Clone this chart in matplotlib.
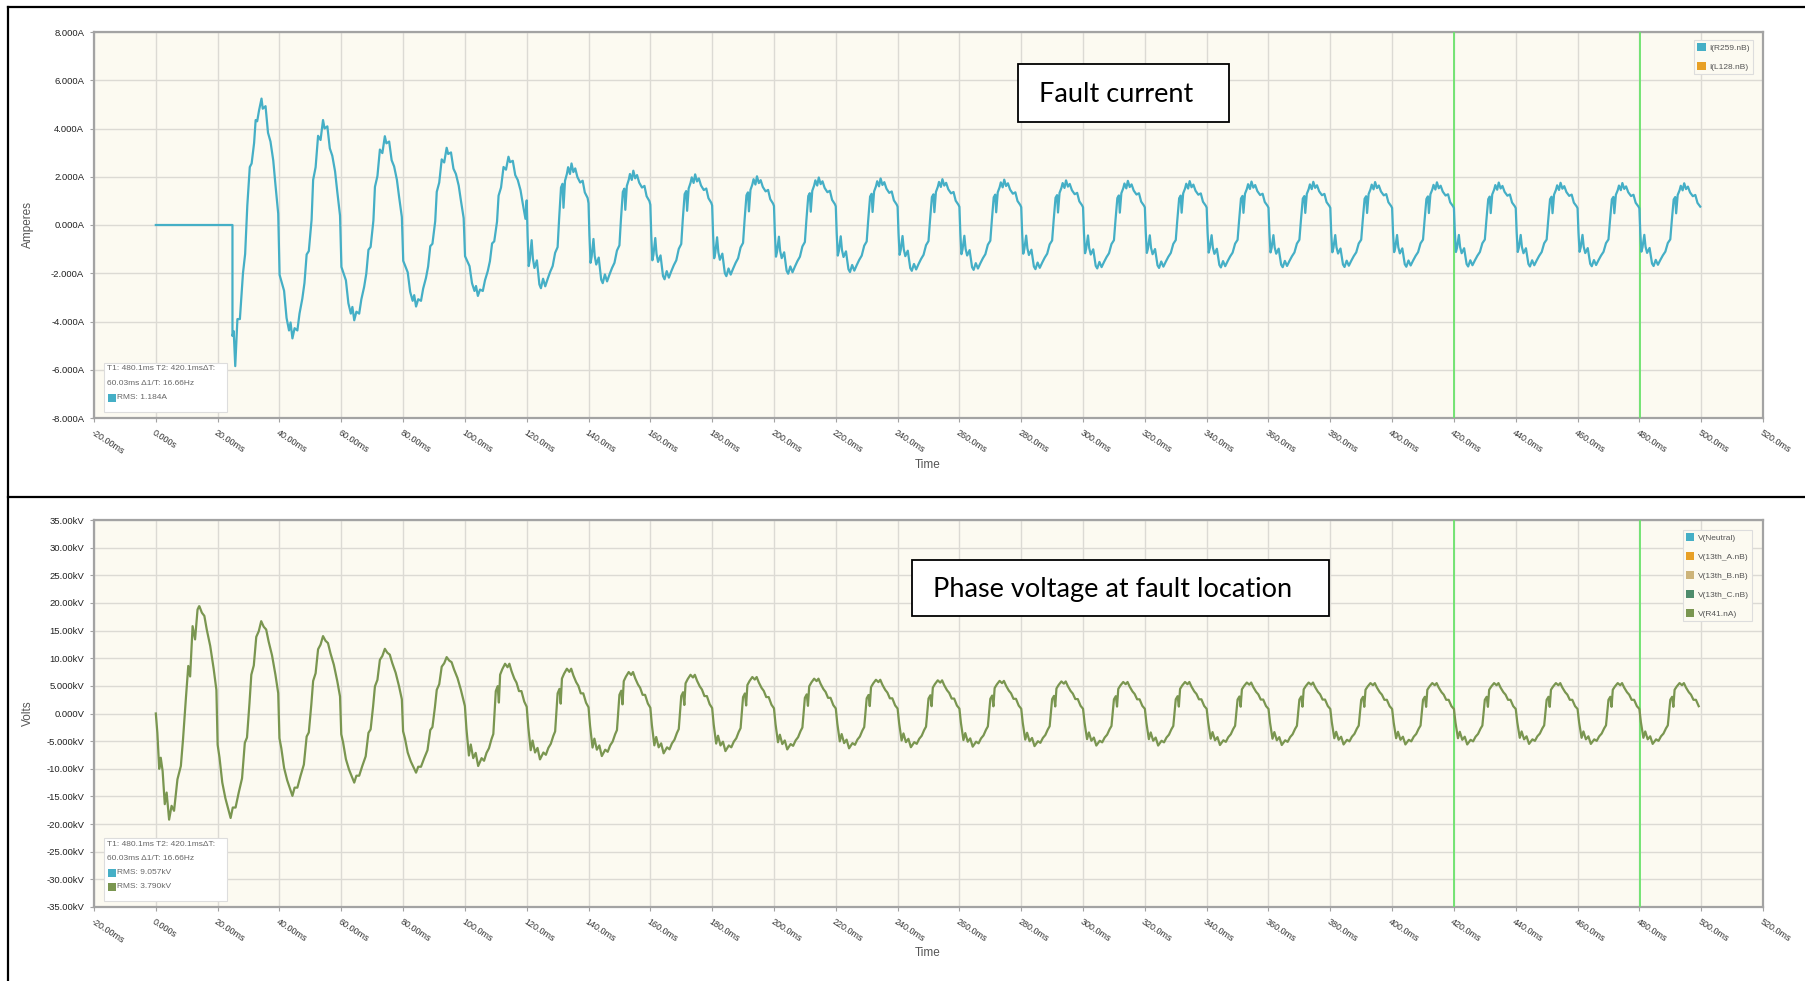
import matplotlib
matplotlib.use("Agg")
import matplotlib.pyplot as plt
from matplotlib.patches import Rectangle, Patch
from matplotlib.lines import Line2D

plt.rcParams["font.family"] = ["Liberation Sans", "DejaVu Sans"]

W, H = 1805, 981

# ---- data ----
period_ms = 20.0
x_ticks = list(range(-20, 521, 20))
amp_ticks = list(range(-8, 9, 2))
kv_ticks = list(range(-35, 36, 5))
cursor_times = [420.1, 480.1]
t_end = 499.8

# fault current (A): explicit onset, then a cycle shape scaled by per-cycle peak / trough
cur_onset_t = [0.0, 24.8, 24.8, 25.2, 25.7, 26.4, 27.2, 28.2, 28.9, 29.6, 30.4,
               31.0, 31.8, 32.3, 32.8, 33.4, 34.2]
cur_onset_v = [0.0, 0.0, -4.6, -4.4, -5.85, -3.9, -3.9, -2.0, -1.2, 0.8, 2.4,
               2.55, 3.4, 4.35, 4.3, 4.75, 5.24]
cur_first_cycle = 1
cur_early_cycles = 5
cur_peaks = [5.24, 4.35, 3.68, 3.20, 2.83, 2.55, 2.25, 2.10, 2.02, 1.97, 1.93, 1.90,
             1.88, 1.85, 1.83, 1.82, 1.80, 1.79, 1.78, 1.77, 1.76, 1.75, 1.74, 1.73]
cur_troughs = [-5.85, -4.70, -3.95, -3.38, -2.94, -2.62, -2.41, -2.25, -2.12, -2.02,
               -1.95, -1.90, -1.86, -1.83, -1.80, -1.78, -1.76, -1.75, -1.74, -1.73,
               -1.72, -1.72, -1.71, -1.70]
# shape of the decaying cycles (read from 60-80 ms)
cur_early_phase = [0.05, 1.5, 2.3, 3.1, 3.6, 4.2, 4.9, 5.8, 6.5, 7.4, 8.1, 8.8, 9.5,
                   10.4, 10.9, 11.7, 12.5, 13.3, 14.1, 14.6, 15.5, 16.3, 17.1, 18.0,
                   18.7, 19.6]
cur_early_shape = [-0.44, -0.58, -0.82, -0.93, -0.86, -1.0, -0.91, -0.93, -0.78,
                   -0.65, -0.51, -0.26, -0.23, 0.05, 0.43, 0.55, 0.85, 0.81, 1.0, 0.92,
                   0.94, 0.73, 0.66, 0.51, 0.32, 0.09]
# shape of the settled cycles (read from 300-320 ms)
cur_phase = [0.0, 0.3, 0.65, 1.0, 1.6, 2.0, 2.5, 3.3, 4.1, 4.6, 5.3, 6.0, 6.8, 7.6,
             8.4, 9.2, 10.0, 10.5, 11.1, 11.6, 11.9, 12.4, 13.0, 13.4, 14.0, 14.5,
             15.1, 15.7, 16.4, 17.3, 18.1, 18.8, 19.7]
cur_shape = [0.40, -0.18, -0.65, -0.55, -0.24, -0.53, -0.68, -0.56, -0.94, -1.0,
             -0.85, -0.97, -0.85, -0.74, -0.65, -0.44, -0.35, 0.11, 0.61, 0.67, 0.28,
             0.72, 0.83, 0.94, 0.83, 1.0, 0.86, 0.92, 0.78, 0.69, 0.72, 0.53, 0.44]

# phase voltage (kV)
volt_onset_t = [0.0, 0.5, 1.1, 1.6, 2.2, 2.9, 3.5, 4.3, 5.1, 5.9, 7.0, 8.1, 8.8,
                9.7, 10.5, 11.1, 11.9, 12.7, 13.5, 14.0]
volt_onset_v = [0.0, -3.5, -10.0, -8.0, -10.4, -16.4, -14.3, -19.2, -16.7, -17.6,
                -11.9, -9.5, -4.7, 2.5, 8.6, 6.7, 15.8, 13.4, 18.8, 19.4]
volt_first_cycle = 0
volt_early_cycles = 5
volt_peaks = [19.4, 16.7, 14.0, 11.7, 10.2, 9.0, 8.1, 7.5, 7.0, 6.6, 6.3, 6.1, 6.0,
              5.9, 5.8, 5.7, 5.7, 5.6, 5.6, 5.5, 5.5, 5.5, 5.5, 5.5, 5.5]
volt_troughs = [-19.2, -18.9, -14.9, -12.5, -10.7, -9.5, -8.3, -7.7, -7.2, -6.8,
                -6.5, -6.3, -6.1, -6.0, -5.9, -5.8, -5.8, -5.7, -5.7, -5.6, -5.6,
                -5.6, -5.5, -5.5, -5.5]
volt_early_phase = [0.0, 0.6, 1.5, 2.5, 3.3, 4.2, 4.9, 5.8, 6.8, 7.9, 8.8, 9.5, 10.3,
                    10.9, 11.7, 12.5, 13.3, 14.1, 14.9, 15.7, 16.5, 17.6, 18.7, 19.6]
volt_early_shape = [-0.30, -0.42, -0.66, -0.81, -0.90, -1.0, -0.90, -0.90, -0.76,
                    -0.62, -0.28, -0.23, 0.11, 0.42, 0.52, 0.83, 0.89, 1.0, 0.94, 0.91,
                    0.78, 0.63, 0.42, 0.22]
volt_phase = [0.0, 0.5, 1.3, 1.9, 2.7, 3.5, 4.3, 5.4, 6.2, 7.0, 7.8, 8.6, 9.2, 9.5,
              10.0, 10.6, 11.0, 11.4, 12.1, 13.0, 13.8, 14.4, 15.1, 16.0, 16.7,
              17.5, 18.3, 19.2]
volt_shape = [0.15, -0.29, -0.80, -0.59, -0.85, -0.75, -1.0, -0.85, -0.90, -0.75,
              -0.66, -0.49, -0.39, -0.08, 0.45, 0.55, 0.22, 0.78, 0.89, 1.0, 0.93,
              1.0, 0.85, 0.70, 0.62, 0.45, 0.45, 0.24]

cur_legend = ["I(R259.nB)", "I(L128.nB)"]
cur_legend_colors = ["#45AFC6", "#E8A026"]
volt_legend = ["V(Neutral)", "V(13th_A.nB)", "V(13th_B.nB)", "V(13th_C.nB)", "V(R41.nA)"]
volt_legend_colors = ["#45AFC6", "#E8A026", "#CDB47A", "#4E8C6C", "#7A9650"]

cur_info = ["T1: 480.1ms T2: 420.1ms\u0394T:", "60.03ms \u03941/T: 16.66Hz"]
cur_rms = [("RMS: 1.184A", "#45AFC6")]
volt_rms = [("RMS: 9.057kV", "#45AFC6"), ("RMS: 3.790kV", "#7A9650")]

CUR_COLOR = "#45AFC6"
VOLT_COLOR = "#7A9650"
BG = "#FCFAF1"
GRID = "#DCDAD4"
SPINE = "#A3A3A3"


def build_trace(onset_t, onset_v, first_cycle, peaks, troughs, n_early,
                early_phase, early_shape, phase, shape):
    ts, vs = list(onset_t), list(onset_v)
    t_start = onset_t[-1]
    for k, (pk, tr) in enumerate(zip(peaks, troughs)):
        t0 = (first_cycle + k) * period_ms
        ph_list, sh_list = (early_phase, early_shape) if k < n_early else (phase, shape)
        for ph, s in zip(ph_list, sh_list):
            t = t0 + ph
            if t <= t_start or t > t_end:
                continue
            ts.append(t)
            vs.append(s * pk if s > 0 else -s * tr)
    return ts, vs


def fx(x):
    return x / W


def fy(y):
    return 1 - y / H


def time_label(t):
    if t == 0:
        return "0.000s"
    if abs(t) < 100:
        return f"{t:.2f}ms"
    return f"{t:.1f}ms"


def kv_label(v):
    if v == 0:
        return "0.000V"
    if abs(v) < 10:
        return f"{v:.3f}kV"
    return f"{v:.2f}kV"


def style_axes(ax, yticks, ylabels):
    ax.set_facecolor(BG)
    ax.set_xlim(-20, 520)
    ax.set_xticks(x_ticks)
    ax.set_xticklabels([time_label(t) for t in x_ticks], rotation=-33, ha="left",
                       va="top", rotation_mode="anchor", fontsize=6.5, color="#333333")
    ax.set_yticks(yticks)
    ax.set_yticklabels(ylabels, fontsize=6.8, color="#222222")
    ax.set_ylim(yticks[0], yticks[-1])
    ax.grid(True, color=GRID, lw=1.0)
    ax.set_axisbelow(True)
    ax.tick_params(length=3, width=0.8, color=SPINE, pad=4)
    for sp in ax.spines.values():
        sp.set_color(SPINE)
        sp.set_linewidth(1.6)
    for ct in cursor_times:
        ax.axvline(ct, color="#6BE36B", lw=1.3, zorder=3)


def legend(ax, labels, colors, anchor):
    handles = [Patch(facecolor=c, edgecolor="none", label=l) for l, c in zip(labels, colors)]
    leg = ax.legend(handles=handles, loc="upper right", bbox_to_anchor=anchor,
                    fontsize=6, handlelength=1.0, handleheight=1.0, handletextpad=0.4,
                    labelspacing=1.25, borderpad=0.4, borderaxespad=0, fancybox=False,
                    edgecolor="#DDDDDD", facecolor=BG, framealpha=1, labelcolor="#555555")
    leg.get_frame().set_linewidth(0.8)


def info_box(fig, x0, y0, x1, lines, rms):
    step = 14.3
    y1 = y0 + 8 + step * (len(lines) + len(rms)) - 2
    fig.add_artist(Rectangle((fx(x0), fy(y1)), fx(x1 - x0), (y1 - y0) / H,
                             transform=fig.transFigure, facecolor="white",
                             edgecolor="#DDDDDD", lw=0.8, zorder=5))
    y = y0 + 6
    for s in lines:
        fig.text(fx(x0 + 3), fy(y), s, fontsize=6, color="#666666", va="center", zorder=6)
        y += step
    for s, c in rms:
        fig.add_artist(Rectangle((fx(x0 + 4), fy(y + 4)), fx(8), 8 / H,
                                 transform=fig.transFigure, facecolor=c,
                                 edgecolor="none", zorder=6))
        fig.text(fx(x0 + 13), fy(y), s, fontsize=6, color="#666666", va="center", zorder=6)
        y += step


def title_box(fig, x0, y0, x1, y1, text, tx):
    fig.add_artist(Rectangle((fx(x0), fy(y1)), fx(x1 - x0), (y1 - y0) / H,
                             transform=fig.transFigure, facecolor="white",
                             edgecolor="black", lw=1.3, zorder=5))
    fig.text(fx(tx), fy((y0 + y1) / 2 + 1), text, fontsize=19.5, family="Lato",
             color="black", va="center", ha="left", zorder=6)


fig = plt.figure(figsize=(W / 100, H / 100), dpi=100)

# ---- top: fault current ----
ax1 = fig.add_axes([fx(94), fy(418), fx(1763 - 94), (418 - 32) / H])
style_axes(ax1, amp_ticks, [f"{v:.3f}A" for v in amp_ticks])
t, v = build_trace(cur_onset_t, cur_onset_v, cur_first_cycle, cur_peaks, cur_troughs,
                   cur_early_cycles, cur_early_phase, cur_early_shape, cur_phase, cur_shape)
ax1.plot(t, v, color=CUR_COLOR, lw=1.6, zorder=4)
legend(ax1, cur_legend, cur_legend_colors, ((1753 - 94) / 1669, (418 - 40) / 386))

# ---- bottom: phase voltage ----
ax2 = fig.add_axes([fx(94), fy(907), fx(1763 - 94), (907 - 520) / H])
style_axes(ax2, kv_ticks, [kv_label(v) for v in kv_ticks])
t, v = build_trace(volt_onset_t, volt_onset_v, volt_first_cycle, volt_peaks,
                   volt_troughs, volt_early_cycles, volt_early_phase, volt_early_shape,
                   volt_phase, volt_shape)
ax2.plot(t, v, color=VOLT_COLOR, lw=1.6, zorder=4)
legend(ax2, volt_legend, volt_legend_colors, ((1752 - 94) / 1669, (907 - 530) / 387))

# axis titles
fig.text(fx(28), fy(225), "Amperes", rotation=90, fontsize=8.5, color="#555555",
         ha="center", va="center")
fig.text(fx(28), fy(713), "Volts", rotation=90, fontsize=8.5, color="#555555",
         ha="center", va="center")
fig.text(fx(928), fy(465), "Time", fontsize=8.5, color="#555555", ha="center", va="center")
fig.text(fx(928), fy(953), "Time", fontsize=8.5, color="#555555", ha="center", va="center")

info_box(fig, 104, 363, 227, cur_info, cur_rms)
info_box(fig, 104, 838, 227, cur_info, volt_rms)

title_box(fig, 1018, 64, 1229, 122, "Fault current", 1039)
title_box(fig, 912, 560, 1329, 616, "Phase voltage at fault location", 933)

# outer frame lines
for (xa, ya, xb, yb) in [(8, 7, W, 7), (8, 7, 8, H), (8, 497, W, 497)]:
    fig.add_artist(Line2D([fx(xa), fx(xb)], [fy(ya), fy(yb)], transform=fig.transFigure,
                          color="black", lw=1.6))

fig.savefig("out.png", dpi=100, facecolor="white")
